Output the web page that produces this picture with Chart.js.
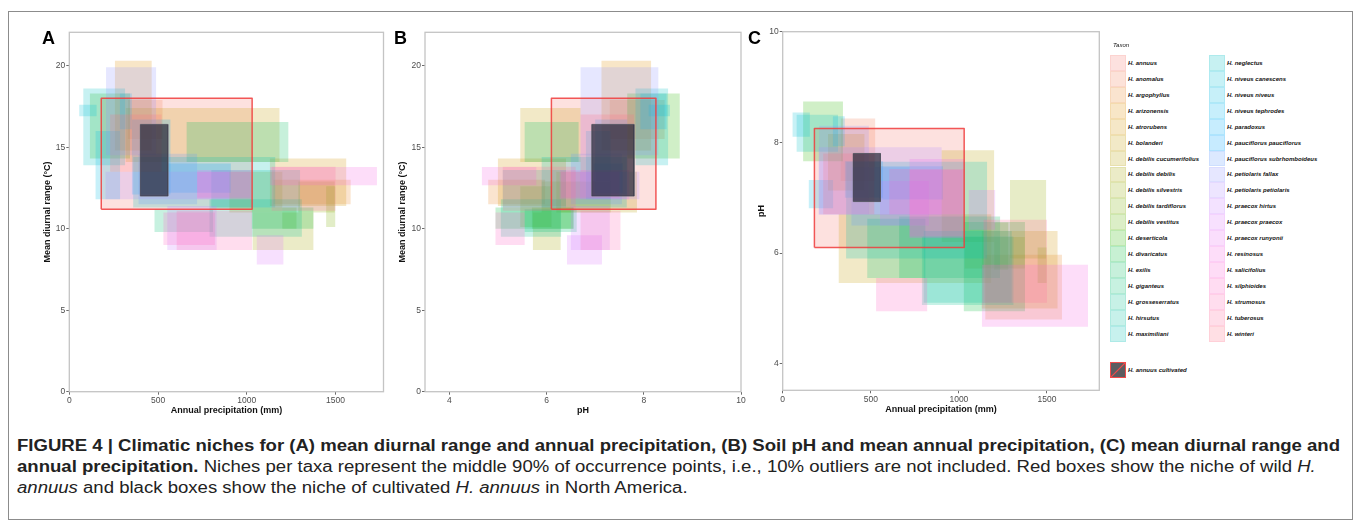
<!DOCTYPE html>
<html><head><meta charset="utf-8">
<script src="https://cdn.jsdelivr.net/npm/chart.js@4.4.0/dist/chart.umd.min.js"></script>
<style>
html,body{margin:0;padding:0;background:#fff;width:1358px;height:527px;overflow:hidden;font-family:"Liberation Sans",Arial,sans-serif;}
#frame{position:absolute;left:8px;top:11px;width:1345px;height:509px;border:1px solid #8c8c8c;box-sizing:border-box;}
canvas{position:absolute;top:0;}
.letter{position:absolute;font:bold 18px "Liberation Sans",Arial,sans-serif;color:#000;line-height:18px;}
.key{position:absolute;width:16px;height:15.9px;box-sizing:border-box;}
.lab{position:absolute;font:italic bold 6px "Liberation Sans",Arial,sans-serif;color:#111;white-space:nowrap;transform:translateY(-50%);}
#cap{position:absolute;left:17px;top:435px;color:#222;white-space:nowrap;font-family:"Liberation Sans",Arial,sans-serif;font-size:16px;}
#cap div{height:21px;line-height:21px;transform-origin:0 50%;}
</style></head>
<body>
<div id="frame"></div>
<canvas id="cA" width="392" height="430" style="left:0px"></canvas>
<canvas id="cB" width="358" height="430" style="left:392px"></canvas>
<canvas id="cC" width="355" height="430" style="left:750px"></canvas>
<div class="letter" style="left:42px;top:29px">A</div>
<div class="letter" style="left:394px;top:29px">B</div>
<div class="letter" style="left:748px;top:29px">C</div>
<div id="legend"></div>
<div id="cap">
<div id="l1"><span><b>FIGURE 4 | Climatic niches for (A) mean diurnal range and annual precipitation, (B) Soil pH and mean annual precipitation, (C) mean diurnal range and</b></span></div>
<div id="l2"><span><b>annual precipitation.</b> Niches per taxa represent the middle 90% of occurrence points, i.e., 10% outliers are not included. Red boxes show the niche of wild <i>H.</i></span></div>
<div id="l3"><span><i>annuus</i> and black boxes show the niche of cultivated <i>H. annuus</i> in North America.</span></div>
</div>
<script>
// ---------------- DATA ----------------
const taxa = ["H. annuus","H. anomalus","H. argophyllus","H. arizonensis","H. atrorubens","H. bolanderi","H. debilis cucumerifolius","H. debilis debilis","H. debilis silvestris","H. debilis tardiflorus","H. debilis vestitus","H. deserticola","H. divaricatus","H. exilis","H. giganteus","H. grosseserratus","H. hirsutus","H. maximiliani","H. neglectus","H. niveus canescens","H. niveus niveus","H. niveus tephrodes","H. paradoxus","H. pauciflorus pauciflorus","H. pauciflorus subrhomboideus","H. petiolaris fallax","H. petiolaris petiolaris","H. praecox hirtus","H. praecox praecox","H. praecox runyonii","H. resinosus","H. salicifolius","H. silphioides","H. strumosus","H. tuberosus","H. winteri"];
// annual precipitation (mm), 5th-95th percentile
const precipLo = [180,330,1150,257,1130,318,902,1033,1290,1447,1200,116,1028,661,480,790,800,360,79,56,148,285,353,550,390,207,204,552,1056,720,1131,720,530,605,1140,230];
const precipHi = [1030,525,1585,464,1560,1184,1200,1375,1495,1498,1280,342,1375,1234,810,1310,1300,1160,314,154,286,352,570,910,720,489,902,830,1206,1030,1733,1020,820,1030,1500,520];
// mean diurnal range (°C)
const diurnalLo = [11.2,15.5,11.5,14.8,11.4,14.1,11.0,8.7,11.0,10.1,10.0,14.3,10.0,14.1,9.8,9.5,11.3,11.3,13.9,16.9,11.8,16.1,12.1,12.2,11.5,14.5,11.8,8.7,7.8,11.8,12.66,11.9,9.0,8.7,11.1,13.5];
const diurnalHi = [18.0,17.9,13.0,20.3,14.3,17.4,13.5,11.0,12.9,12.6,11.3,18.3,11.3,16.55,11.2,11.8,13.6,14.4,18.6,17.6,16.0,18.3,16.7,14.0,14.6,19.9,13.5,11.4,9.6,13.6,13.79,13.5,11.0,11.1,13.8,17.0];
// soil pH
const phLo = [6.1,7.3,4.8,7.13,5.0,5.46,6.2,5.72,5.9,5.46,5.7,7.66,4.95,5.55,5.55,5.06,5.1,5.9,7.83,8.1,6.81,7.93,7.0,6.97,6.5,6.7,6.69,6.5,6.42,6.27,4.67,6.3,4.95,6.7,5.1,6.7];
const phHi = [8.25,8.43,5.97,8.15,6.4,6.7,7.86,6.29,7.32,6.1,6.55,8.74,6.56,6.66,6.62,6.3,6.4,7.65,8.5,8.54,7.32,8.47,7.66,7.57,7.55,8.3,7.91,7.3,7.14,7.7,5.79,7.5,5.55,7.52,6.6,7.8];
// cultivated H. annuus niche
const cultPrecip = [400,555];
const cultDiurnal = [12.0,16.4];
const cultPH = [6.93,7.8];
// axis ticks
const precipTicks = [0,500,1000,1500];
const diurnalTicks = [0,5,10,15,20];
const phTicks = [4,6,8,10];

// ---------------- STYLE ----------------
function hcl(h, c, l) {
  const hr = h*Math.PI/180, U = c*Math.cos(hr), V = c*Math.sin(hr);
  const Xn=95.047, Yn=100, Zn=108.883;
  const un = 4*Xn/(Xn+15*Yn+3*Zn), vn = 9*Yn/(Xn+15*Yn+3*Zn);
  const Y = l>8 ? Yn*Math.pow((l+16)/116,3) : Yn*l/903.3;
  const u = U/(13*l)+un, v = V/(13*l)+vn;
  const X = Y*9*u/(4*v), Z = Y*(12-3*u-20*v)/(4*v);
  const x=X/100,y=Y/100,z=Z/100;
  const r = 3.2404542*x - 1.5371385*y - 0.4985314*z;
  const g = -0.9692660*x + 1.8760108*y + 0.0415560*z;
  const b = 0.0556434*x - 0.2040259*y + 1.0572252*z;
  const gam = t => { t = t<=0.0031308 ? 12.92*t : 1.055*Math.pow(t,1/2.4)-0.055; return Math.round(Math.max(0,Math.min(1,t))*255); };
  return [gam(r),gam(g),gam(b)];
}
const cols = taxa.map((_, i) => hcl(15 + 360*i/taxa.length, 100, 65));
const rgba = (i, a) => `rgba(${cols[i][0]},${cols[i][1]},${cols[i][2]},${a})`;
const FILL_A = 0.22;
const FAM = '"Liberation Sans", Arial, sans-serif';

const borderPlugin = {
  id: 'panelBorder',
  afterDraw(chart) {
    const {ctx, chartArea: a} = chart;
    ctx.save();
    ctx.strokeStyle = '#c4c4c4';
    ctx.lineWidth = 1.3;
    ctx.strokeRect(a.left, a.top, a.right - a.left, a.bottom - a.top);
    ctx.restore();
  }
};

function rectPts(x0, x1, y0, y1) {
  return [{x:x0,y:y0},{x:x0,y:y1},{x:x1,y:y1},{x:x1,y:y0}];
}
function panel(id, xLo, xHi, yLo, yHi, cx, cy, cfg) {
  const ds = [];
  // cultivated (top)
  ds.push({data: rectPts(cx[0],cx[1],cy[0],cy[1]), showLine:true, fill:'shape', backgroundColor:'rgba(40,42,58,0.72)', borderColor:'transparent', borderWidth:0, pointRadius:0, order:0});
  ds.push({data: rectPts(cx[0],cx[1],cy[0],cy[1]).concat([{x:cx[0],y:cy[0]}]), showLine:true, fill:false, borderColor:'rgba(110,110,120,0.9)', borderWidth:1, pointRadius:0, order:1});
  // wild annuus outline
  ds.push({data: rectPts(xLo[0],xHi[0],yLo[0],yHi[0]).concat([{x:xLo[0],y:yLo[0]}]), showLine:true, fill:false, borderColor:'rgba(240,60,60,0.85)', borderWidth:1.5, borderJoinStyle:'round', pointRadius:0, order:2});
  for (let i = 0; i < taxa.length; i++) {
    ds.push({label: taxa[i], data: rectPts(xLo[i],xHi[i],yLo[i],yHi[i]), showLine:true, fill:'shape', backgroundColor: rgba(i, FILL_A), borderColor:'transparent', borderWidth:0, pointRadius:0, order: 100 - i});
  }
  const tickFont = {size: 8.5, family: FAM};
  const titleFont = {size: 9, weight: 'bold', family: FAM};
  new Chart(document.getElementById(id), {
    type: 'scatter',
    data: {datasets: ds},
    plugins: [borderPlugin],
    options: {
      responsive: false, animation: false, events: [],
      layout: {padding: {left: 0, right: cfg.padRight, top: cfg.padTop, bottom: 0}},
      plugins: {legend: {display: false}, tooltip: {enabled: false}},
      elements: {line: {tension: 0}},
      scales: {
        x: {type:'linear', min: cfg.xMin, max: cfg.xMax,
            afterBuildTicks: s => { s.ticks = cfg.xTicks.map(v => ({value: v})); },
            afterFit: s => { s.height = cfg.xHeight; },
            ticks: {font: tickFont, color: '#4d4d4d', padding: 1, maxRotation: 0, autoSkip: false, callback: v => String(v)},
            grid: {drawOnChartArea: false, tickLength: 3, color: '#444', lineWidth: 0.8},
            border: {display: false},
            title: {display: true, text: cfg.xTitle, font: titleFont, color: '#111', padding: {top: 0, bottom: cfg.xTitlePad}}},
        y: {type:'linear', min: cfg.yMin, max: cfg.yMax,
            afterBuildTicks: s => { s.ticks = cfg.yTicks.map(v => ({value: v})); },
            afterFit: s => { s.width = cfg.yWidth; },
            ticks: {font: tickFont, color: '#4d4d4d', padding: 1, autoSkip: false, callback: v => String(v)},
            grid: {drawOnChartArea: false, tickLength: 3, color: '#444', lineWidth: 0.8},
            border: {display: false},
            title: {display: true, text: cfg.yTitle, font: titleFont, color: '#111', padding: {top: cfg.yTitlePad, bottom: 0}}}
      }
    }
  });
}

panel('cA', precipLo, precipHi, diurnalLo, diurnalHi, cultPrecip, cultDiurnal, {
  xMin: 0, xMax: 1770, yMin: 0, yMax: 22.05, xTicks: precipTicks, yTicks: diurnalTicks,
  xTitle: 'Annual precipitation (mm)', yTitle: 'Mean diurnal range (°C)',
  padTop: 32.3, padRight: 8.5, yWidth: 69.3, xHeight: 38.3, xTitlePad: 14, yTitlePad: 42});
panel('cB', phLo, phHi, diurnalLo, diurnalHi, cultPH, cultDiurnal, {
  xMin: 3.5, xMax: 10, yMin: 0, yMax: 22.05, xTicks: phTicks, yTicks: diurnalTicks,
  xTitle: 'pH', yTitle: 'Mean diurnal range (°C)',
  padTop: 32.3, padRight: 9, yWidth: 33, xHeight: 38.3, xTitlePad: 14, yTitlePad: 5.5});
panel('cC', precipLo, precipHi, phLo, phHi, cultPrecip, cultPH, {
  xMin: 0, xMax: 1797, yMin: 3.52, yMax: 10, xTicks: precipTicks, yTicks: phTicks,
  xTitle: 'Annual precipitation (mm)', yTitle: 'pH',
  padTop: 31.7, padRight: 5.7, yWidth: 32.7, xHeight: 39.7, xTitlePad: 15, yTitlePad: 6});

// ---------------- LEGEND ----------------
const leg = document.getElementById('legend');
function addDiv(cls, css, text) {
  const d = document.createElement('div');
  d.className = cls; Object.assign(d.style, css);
  if (text !== undefined) d.textContent = text;
  leg.appendChild(d); return d;
}
addDiv('lab', {left:'1113px', top:'45px', fontWeight:'normal'}, 'Taxon');
const KEY_H = 15.93;
taxa.forEach((name, i) => {
  const col = i < 18 ? 0 : 1, row = i % 18;
  const kx = col ? 1209 : 1110, ty = 55 + row*KEY_H;
  addDiv('key', {left: kx+'px', top: ty+'px', background: rgba(i, FILL_A), border: '0.6px solid ' + rgba(i, 0.12)});
  addDiv('lab', {left: (kx+18)+'px', top: (ty+KEY_H/2)+'px'}, name);
});
const ck = addDiv('key', {left:'1110px', top:'362px', height:'16px', background:'#5c5c60', border:'1.2px solid #f04b4b', overflow:'hidden'});
ck.innerHTML = '<svg width="16" height="16" style="position:absolute;left:-1px;top:-1px"><line x1="1" y1="15" x2="15" y2="1" stroke="#f04b4b" stroke-width="1.2"/></svg>';
addDiv('lab', {left:'1128px', top:'370px'}, 'H. annuus cultivated');

// ---------------- CAPTION (condensed to the reference line width) ----------------
(function fitCaption(){
  const w = document.querySelector('#l1 span').getBoundingClientRect().width;
  const k = 1323 / w;
  document.querySelectorAll('#cap div').forEach(d => { d.style.transform = 'scaleX(' + k.toFixed(4) + ')'; });
})();
</script>
</body></html>
